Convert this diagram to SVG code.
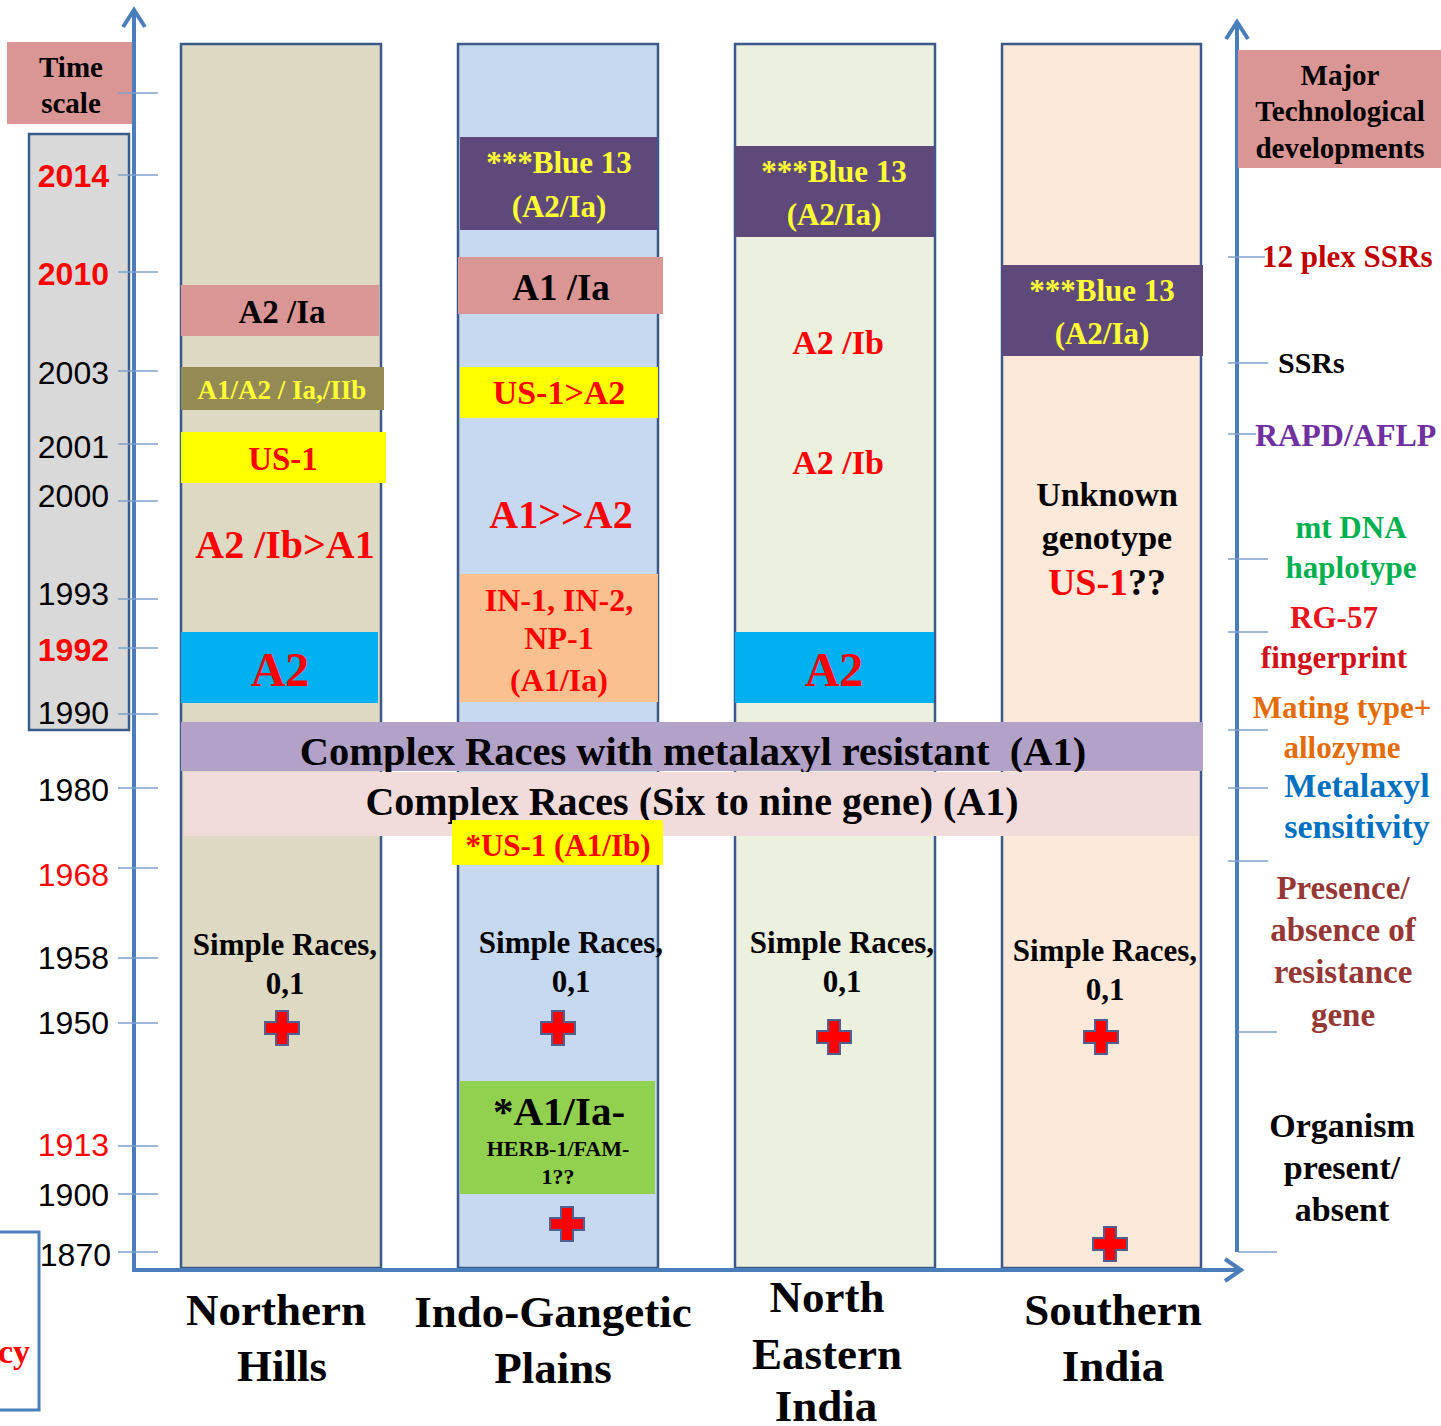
<svg xmlns="http://www.w3.org/2000/svg" width="1441" height="1426" viewBox="0 0 1441 1426">
<style>
.t{font-family:"Liberation Serif","Times New Roman",serif;font-weight:bold;text-anchor:middle}
.y{font-family:"Liberation Sans",Arial,sans-serif;font-size:32px;text-anchor:end;fill:#000}
.yr{fill:#FF0000}
.yb{font-weight:bold}
.col{stroke:#3B5A8A;stroke-width:2.5}
.tick{stroke:#7F9FCB;stroke-width:1.5}
.axis{stroke:#4A7EBB;stroke-width:4;fill:none}
.plus{fill:#FF0000;stroke:#4F5F8F;stroke-width:2}
.red{fill:#FF0000}
.yel{fill:#FFFF33}
</style>
<defs>
<path id="plus" class="plus" d="M-6,-17 H6 V-6 H17 V6 H6 V17 H-6 V6 H-17 V-6 H-6 Z"/>
</defs>
<rect width="1441" height="1426" fill="#FFFFFF"/>

<g id="time-scale">
<rect x="7" y="42" width="127" height="82" fill="#D99694"/>
<text class="t" x="71" y="77" font-size="29">Time</text>
<text class="t" x="71" y="113" font-size="29">scale</text>
<rect x="29" y="134" width="100" height="596" fill="#D9D9D9" stroke="#385D8A" stroke-width="2.5"/>
<text class="y yr yb" x="109" y="187">2014</text>
<text class="y yr yb" x="109" y="285">2010</text>
<text class="y" x="109" y="384">2003</text>
<text class="y" x="109" y="458">2001</text>
<text class="y" x="109" y="507">2000</text>
<text class="y" x="109" y="605">1993</text>
<text class="y yr yb" x="109" y="661">1992</text>
<text class="y" x="109" y="724">1990</text>
<text class="y" x="109" y="801">1980</text>
<text class="y yr" x="109" y="886">1968</text>
<text class="y" x="109" y="969">1958</text>
<text class="y" x="109" y="1034">1950</text>
<text class="y yr" x="109" y="1156">1913</text>
<text class="y" x="109" y="1206">1900</text>
<text class="y" x="111" y="1266">1870</text>
</g>

<g id="col-northern-hills">
<rect class="col" x="181" y="44" width="200" height="1224" fill="#DDD9C3"/>
<rect x="181" y="285" width="198" height="51" fill="#D99694"/>
<text class="t" x="282" y="323" font-size="33">A2 /Ia</text>
<rect x="181" y="367" width="203" height="43" fill="#948A54"/>
<text class="t yel" x="282" y="399" font-size="27">A1/A2 / Ia,/IIb</text>
<rect x="181" y="432" width="205" height="51" fill="#FFFF00"/>
<text class="t red" x="283" y="470" font-size="33">US-1</text>
<text class="t red" x="285" y="558" font-size="40">A2 /Ib&gt;A1</text>
<rect x="181" y="632" width="197" height="71" fill="#00B0F0"/>
<text class="t red" x="280" y="686" font-size="48">A2</text>
<text class="t" x="285" y="955" font-size="31">Simple Races,</text>
<text class="t" x="285" y="994" font-size="31">0,1</text>
<use href="#plus" x="282" y="1028"/>
</g>

<g id="col-indo-gangetic">
<rect class="col" x="458" y="44" width="200" height="1224" fill="#C6D9F0"/>
<rect x="460" y="137" width="197" height="93" fill="#5F497A"/>
<text class="t yel" x="559" y="173" font-size="31">***Blue 13</text>
<text class="t yel" x="559" y="217" font-size="31">(A2/Ia)</text>
<rect x="458" y="257" width="205" height="57" fill="#D99694"/>
<text class="t" x="561" y="300" font-size="37">A1 /Ia</text>
<rect x="460" y="367" width="198" height="51" fill="#FFFF00"/>
<text class="t red" x="559" y="404" font-size="34">US-1&gt;A2</text>
<text class="t red" x="561" y="528" font-size="40">A1&gt;&gt;A2</text>
<rect x="460" y="574" width="198" height="128" fill="#FAC090"/>
<text class="t red" x="559" y="611" font-size="32">IN-1, IN-2,</text>
<text class="t red" x="559" y="649" font-size="32">NP-1</text>
<text class="t red" x="559" y="691" font-size="32">(A1/Ia)</text>
<text class="t" x="571" y="953" font-size="31">Simple Races,</text>
<text class="t" x="571" y="992" font-size="31">0,1</text>
<use href="#plus" x="558" y="1028"/>
<rect x="460" y="1081" width="195" height="113" fill="#92D050"/>
<text class="t" x="559" y="1125" font-size="41">*A1/Ia-</text>
<text class="t" x="558" y="1156" font-size="22">HERB-1/FAM-</text>
<text class="t" x="558" y="1184" font-size="22">1??</text>
<use href="#plus" x="567" y="1224"/>
</g>

<g id="col-north-eastern">
<rect class="col" x="735" y="44" width="200" height="1224" fill="#EBF1DE"/>
<rect x="735" y="146" width="199" height="91" fill="#5F497A"/>
<text class="t yel" x="834" y="182" font-size="31">***Blue 13</text>
<text class="t yel" x="834" y="225" font-size="31">(A2/Ia)</text>
<text class="t red" x="838" y="354" font-size="34">A2 /Ib</text>
<text class="t red" x="838" y="474" font-size="34">A2 /Ib</text>
<rect x="735" y="632" width="199" height="71" fill="#00B0F0"/>
<text class="t red" x="834" y="686" font-size="48">A2</text>
<text class="t" x="842" y="953" font-size="31">Simple Races,</text>
<text class="t" x="842" y="992" font-size="31">0,1</text>
<use href="#plus" x="834" y="1037"/>
</g>

<g id="col-southern">
<rect class="col" x="1002" y="44" width="199" height="1224" fill="#FDE9D9"/>
<rect x="1002" y="265" width="201" height="91" fill="#5F497A"/>
<text class="t yel" x="1102" y="301" font-size="31">***Blue 13</text>
<text class="t yel" x="1102" y="344" font-size="31">(A2/Ia)</text>
<text class="t" x="1107" y="506" font-size="34">Unknown</text>
<text class="t" x="1107" y="549" font-size="34">genotype</text>
<text class="t" x="1107" y="595" font-size="38"><tspan fill="#FF0000">US-1</tspan>??</text>
<text class="t" x="1105" y="961" font-size="31">Simple Races,</text>
<text class="t" x="1105" y="1000" font-size="31">0,1</text>
<use href="#plus" x="1101" y="1037"/>
<use href="#plus" x="1110" y="1244"/>
</g>

<g id="band-complex-metalaxyl">
<rect x="181" y="722" width="1022" height="49" fill="#B3A2C7"/>
<text class="t" x="693" y="765" font-size="40.5" xml:space="preserve">Complex Races with metalaxyl resistant  (A1)</text>
</g>
<g id="band-complex-races">
<rect x="184" y="772" width="1015" height="64" fill="#F2DCDB"/>
<text class="t" x="692" y="815" font-size="40">Complex Races (Six to nine gene) (A1)</text>
</g>
<g id="band-us1">
<rect x="452" y="820" width="211" height="45" fill="#FFFF00"/>
<text class="t red" x="558" y="856" font-size="31">*US-1 (A1/Ib)</text>
</g>

<g id="connectors">
<path class="axis" d="M134,10 V1270 H1240"/>
<path class="axis" d="M123,27 L134,10 L145,27"/>
<path class="axis" d="M1225,1259 L1241,1270 L1225,1281"/>
<path class="axis" d="M1237,22 V1252"/>
<path class="axis" d="M1226,39 L1237,22 L1248,39"/>
<g class="tick">
<line x1="118" y1="93" x2="158" y2="93"/>
<line x1="118" y1="175" x2="158" y2="175"/>
<line x1="118" y1="272" x2="158" y2="272"/>
<line x1="118" y1="371" x2="158" y2="371"/>
<line x1="118" y1="444" x2="158" y2="444"/>
<line x1="118" y1="501" x2="158" y2="501"/>
<line x1="118" y1="599" x2="158" y2="599"/>
<line x1="118" y1="648" x2="158" y2="648"/>
<line x1="118" y1="714" x2="158" y2="714"/>
<line x1="118" y1="788" x2="158" y2="788"/>
<line x1="118" y1="868" x2="158" y2="868"/>
<line x1="118" y1="958" x2="158" y2="958"/>
<line x1="118" y1="1023" x2="158" y2="1023"/>
<line x1="118" y1="1146" x2="158" y2="1146"/>
<line x1="118" y1="1194" x2="158" y2="1194"/>
<line x1="118" y1="1252" x2="158" y2="1252"/>
<line x1="1228" y1="257" x2="1265" y2="257"/>
<line x1="1228" y1="363" x2="1268" y2="363"/>
<line x1="1228" y1="434" x2="1256" y2="434"/>
<line x1="1228" y1="559" x2="1268" y2="559"/>
<line x1="1228" y1="632" x2="1268" y2="632"/>
<line x1="1228" y1="730" x2="1268" y2="730"/>
<line x1="1228" y1="788" x2="1268" y2="788"/>
<line x1="1228" y1="861" x2="1268" y2="861"/>
<line x1="1238" y1="1032" x2="1277" y2="1032"/>
<line x1="1238" y1="1252" x2="1277" y2="1252"/>
</g>
</g>

<g id="tech-header">
<rect x="1238" y="50" width="203" height="118" fill="#D99694"/>
<text class="t" x="1340" y="85" font-size="29">Major</text>
<text class="t" x="1340" y="121" font-size="29">Technological</text>
<text class="t" x="1340" y="158" font-size="29">developments</text>
</g>
<g id="tech-labels">
<text class="t" x="1262" y="267" font-size="31" fill="#C00000" style="text-anchor:start">12 plex SSRs</text>
<text class="t" x="1278" y="373" font-size="30" style="text-anchor:start">SSRs</text>
<text class="t" x="1255" y="446" font-size="32" fill="#7030A0" style="text-anchor:start">RAPD/AFLP</text>
<text class="t" x="1351" y="538" font-size="31" fill="#00B050">mt DNA</text>
<text class="t" x="1351" y="578" font-size="31" fill="#00B050">haplotype</text>
<text class="t" x="1334" y="628" font-size="31" fill="#E8141C">RG-57</text>
<text class="t" x="1334" y="668" font-size="31" fill="#D0111A">fingerprint</text>
<text class="t" x="1342" y="718" font-size="31" fill="#E36C09">Mating type+</text>
<text class="t" x="1342" y="758" font-size="31" fill="#E36C09">allozyme</text>
<text class="t" x="1357" y="797" font-size="34" fill="#0070C0">Metalaxyl</text>
<text class="t" x="1357" y="838" font-size="34" fill="#0070C0">sensitivity</text>
<text class="t" x="1343" y="899" font-size="33" fill="#953735">Presence/</text>
<text class="t" x="1343" y="941" font-size="33" fill="#953735">absence of</text>
<text class="t" x="1343" y="983" font-size="33" fill="#953735">resistance</text>
<text class="t" x="1343" y="1026" font-size="33" fill="#953735">gene</text>
<text class="t" x="1342" y="1137" font-size="34">Organism</text>
<text class="t" x="1342" y="1179" font-size="34">present/</text>
<text class="t" x="1342" y="1221" font-size="34">absent</text>
</g>

<g id="region-labels">
<text class="t" x="276" y="1325" font-size="45">Northern</text>
<text class="t" x="282" y="1381" font-size="45">Hills</text>
<text class="t" x="553" y="1327" font-size="45">Indo-Gangetic</text>
<text class="t" x="553" y="1383" font-size="45">Plains</text>
<text class="t" x="827" y="1312" font-size="45">North</text>
<text class="t" x="827" y="1369" font-size="45">Eastern</text>
<text class="t" x="826" y="1421" font-size="45">India</text>
<text class="t" x="1113" y="1325" font-size="45">Southern</text>
<text class="t" x="1113" y="1381" font-size="45">India</text>
</g>

<g id="cut-box">
<rect x="-10" y="1232" width="49" height="178" fill="none" stroke="#4A7EBB" stroke-width="3"/>
<text class="t red" x="30" y="1363" font-size="34" style="text-anchor:end">cy</text>
</g>
</svg>
